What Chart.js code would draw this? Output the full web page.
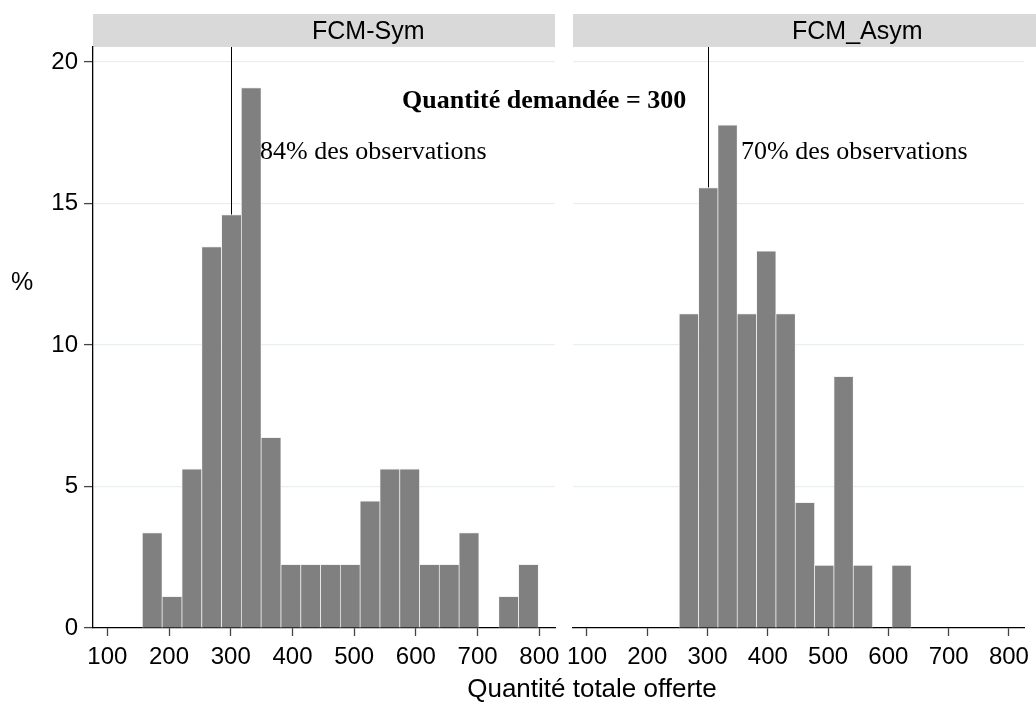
<!DOCTYPE html>
<html>
<head>
<meta charset="utf-8">
<script src="https://cdn.jsdelivr.net/npm/chart.js@4.4.1/dist/chart.umd.min.js"></script>
<style>
  html, body { margin: 0; padding: 0; background: #fff; }
  #wrap { position: relative; width: 1036px; height: 704px; overflow: hidden; font-family: "Liberation Sans", Arial, sans-serif; }
  #wrap canvas { position: absolute; left: 0; top: 0; }
  .lbl { position: absolute; white-space: nowrap; color: #000; }
</style>
</head>
<body>
<div id="wrap">
  <canvas id="panelSym" width="1036" height="704"></canvas>
  <canvas id="panelAsym" width="1036" height="704"></canvas>
  <div class="lbl" id="yTitle" style="left:11px; top:269px; font-size:25px; line-height:25px;"></div>
  <div class="lbl" id="xTitle" style="left:392px; width:400px; text-align:center; top:675px; font-size:26px; line-height:26px;"></div>
</div>
<script>
// centres des classes de l'histogramme (quantité totale offerte)
const binCenters = [172.8, 204.9, 237.0, 269.1, 301.2, 333.2, 365.3, 397.4, 429.5, 461.6,
                    493.6, 525.7, 557.8, 589.9, 621.9, 654.0, 686.1, 718.2, 750.3, 782.4];
// pourcentages
const pctSym  = [3.37, 1.12, 5.62, 13.48, 14.61, 19.10, 6.74, 2.25, 2.25, 2.25,
                 2.25, 4.49, 5.62, 5.62, 2.25, 2.25, 3.37, 0, 1.12, 2.25];
const pctAsym = [0, 0, 0, 11.11, 15.56, 17.78, 11.11, 13.33, 11.11, 4.44,
                 2.22, 8.89, 2.22, 0, 2.22, 0, 0, 0, 0, 0];
const xTicks = [100, 200, 300, 400, 500, 600, 700, 800];
const yTicks = [0, 5, 10, 15, 20];
const panelTitles = ['FCM-Sym', 'FCM_Asym'];
const shareNotes = ['84% des observations', '70% des observations'];
const demandNote = 'Quantité demandée = 300';
const demandRef = 300;
const xTitle = 'Quantité totale offerte';
const yTitle = '%';

document.getElementById('xTitle').textContent = xTitle;
document.getElementById('yTitle').textContent = yTitle;

Chart.defaults.font.family = '"Liberation Sans", Arial, sans-serif';
Chart.defaults.color = '#000';

const sans = '"Liberation Sans", Arial, sans-serif';
const serif = '"Liberation Serif", "Times New Roman", serif';

// bandeau de titre, ligne de référence et annotations
const facetDecor = {
    id: 'facetDecor',
    beforeDraw(chart, args, o) {
        const a = chart.chartArea, ctx = chart.ctx;
        ctx.save();
        ctx.fillStyle = '#d9d9d9';
        ctx.fillRect(a.left, 14, (o.stripRight || a.right) - a.left, a.top - 14);
        ctx.fillStyle = '#000';
        ctx.font = '25px ' + sans;
        ctx.textBaseline = 'alphabetic';
        ctx.textAlign = 'left';
        ctx.fillText(o.title, a.left + 219, 38.5);
        ctx.restore();
    },
    beforeDatasetsDraw(chart, args, o) {
        const a = chart.chartArea, ctx = chart.ctx;
        const x = Math.round(chart.scales.x.getPixelForValue(o.ref)) + 0.5;
        ctx.save();
        ctx.strokeStyle = '#000';
        ctx.lineWidth = 1;
        ctx.beginPath();
        ctx.moveTo(x, a.top);
        ctx.lineTo(x, chart.scales.y.getPixelForValue(0));
        ctx.stroke();
        ctx.restore();
    },
    afterDatasetsDraw(chart, args, o) {
        const ctx = chart.ctx;
        ctx.save();
        ctx.fillStyle = '#000';
        ctx.textBaseline = 'alphabetic';
        ctx.textAlign = 'left';
        (o.notes || []).forEach(n => {
            ctx.font = (n.bold ? 'bold ' : '') + '26px ' + serif;
            ctx.fillText(n.text, chart.scales.x.getPixelForValue(n.x), chart.scales.y.getPixelForValue(n.y));
        });
        ctx.restore();
    }
};

function makePanel(id, title, values, isFirst, notes) {
    return new Chart(document.getElementById(id), {
        type: 'bar',
        data: {
            datasets: [{
                data: binCenters.map((c, i) => ({ x: c, y: values[i] })),
                backgroundColor: '#808080',
                borderColor: '#f2f2f2',
                borderWidth: { top: 1, left: 0.7, right: 0.7, bottom: 0 },
                borderSkipped: 'start',
                categoryPercentage: 1,
                barPercentage: 1
            }]
        },
        options: {
            responsive: false,
            animation: false,
            layout: {
                padding: isFirst ? { left: 0, right: 481, top: 47, bottom: 0 }
                                 : { left: 573, right: 1, top: 47, bottom: 0 }
            },
            plugins: {
                legend: { display: false },
                tooltip: { enabled: false },
                facetDecor: { title: title, ref: demandRef, notes: notes, stripRight: isFirst ? null : 1036 }
            },
            scales: {
                x: {
                    type: 'linear',
                    min: 76.8,
                    max: 825.4,
                    offset: false,
                    afterBuildTicks: s => { s.ticks = xTicks.map(v => ({ value: v })); },
                    afterFit: s => { s.height = 76; },
                    ticks: { font: { size: 24 }, padding: 7, maxRotation: 0, autoSkip: false },
                    grid: { offset: false, drawOnChartArea: false, drawTicks: true, tickLength: 8, tickColor: '#444', tickWidth: 1.3 },
                    border: { display: true, color: '#000', width: 1.3 }
                },
                y: {
                    min: 0,
                    max: 20.53,
                    afterBuildTicks: s => { s.ticks = yTicks.map(v => ({ value: v })); },
                    afterFit: s => { s.width = isFirst ? 93 : 0; },
                    ticks: { display: isFirst, font: { size: 24 }, padding: 6 },
                    grid: {
                        color: c => (c.tick && c.tick.value === 0) ? 'rgba(0,0,0,0)' : '#e9eff0',
                        lineWidth: 1.2,
                        drawTicks: isFirst,
                        tickLength: 9,
                        tickColor: '#444',
                        tickWidth: 1.3
                    },
                    border: { display: isFirst, color: '#000', width: 1.3 }
                }
            }
        },
        plugins: [facetDecor]
    });
}

makePanel('panelSym', panelTitles[0], pctSym, true, [
    { text: shareNotes[0], x: 347.4, y: 16.56 },
    { text: demandNote, x: 577.5, y: 18.39, bold: true }
]);
makePanel('panelAsym', panelTitles[1], pctAsym, false, [
    { text: shareNotes[1], x: 355.5, y: 16.56 }
]);
</script>
</body>
</html>
